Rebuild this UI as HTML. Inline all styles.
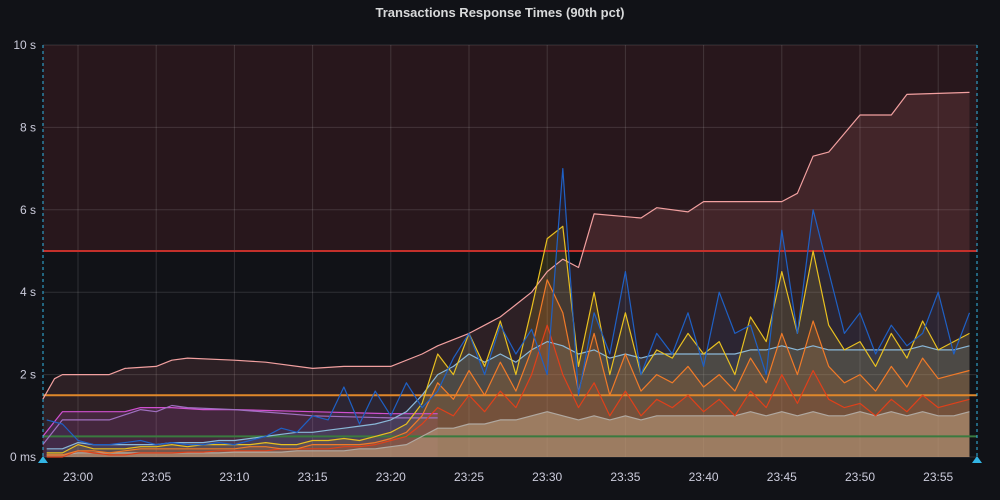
<!DOCTYPE html>
<html><head><meta charset="utf-8"><style>
body{margin:0;background:#111217;font-family:"Liberation Sans",sans-serif;}
#wrap{position:relative;width:1000px;height:500px;overflow:hidden;}
.title{position:absolute;top:5px;left:0;width:1000px;text-align:center;color:#d8d9da;font-size:13px;font-weight:bold;}
</style></head><body>
<div id="wrap">
<div class="title">Transactions Response Times (90th pct)</div>
<svg id="svg" width="1000" height="500" style="position:absolute;left:0;top:0"></svg>
</div>
<script>
const startMin=-2;
const yTicks=[0,2,4,6,8,10];
const yTickLabels=["0 ms","2 s","4 s","6 s","8 s","10 s"];
const xTicks=[0,5,10,15,20,25,30,35,40,45,50,55];
const xTickLabels=["23:00","23:05","23:10","23:15","23:20","23:25","23:30","23:35","23:40","23:45","23:50","23:55"];
const thresholds=[5,1.5,0.5];
const pinkT=[-2.25,-1.5,-1,0,2,3,5,6,7,10,12,15,17,20,22,23,25,26,27,28,29,30,31,32,33,36,37,39,40,45,46,47,48,50,52,53,57];
const pinkV=[1.4,1.9,2.0,2.0,2.0,2.15,2.2,2.35,2.4,2.35,2.3,2.15,2.2,2.2,2.5,2.7,3.0,3.2,3.4,3.7,4.0,4.5,4.8,4.6,5.9,5.8,6.05,5.95,6.2,6.2,6.4,7.3,7.4,8.3,8.3,8.8,8.85];
const magT=[-2.25,-1,3,4,6,8,10,15,20,23];
const magV=[0.5,1.1,1.1,1.2,1.2,1.15,1.15,1.1,1.05,1.05];
const purT=[-2.25,-1,2,4,5,6,7,10,15,20,23];
const purV=[0.3,0.9,0.9,1.15,1.1,1.25,1.2,1.15,1.0,0.95,0.95];
const blue=[0.9,0.8,0.4,0.3,0.3,0.35,0.4,0.3,0.35,0.3,0.3,0.35,0.3,0.4,0.5,0.7,0.6,1.0,0.9,1.7,0.8,1.6,1.0,1.8,1.2,1.6,2.4,3.0,2.0,3.2,2.5,3.1,2.0,7.0,1.5,3.5,2.5,4.5,2.0,3.0,2.5,3.5,2.2,4.0,3.0,3.2,2.0,5.5,3.0,6.0,4.5,3.0,3.5,2.5,3.2,2.7,3.0,4.0,2.5,3.5];
const yellow=[0.1,0.1,0.3,0.2,0.2,0.2,0.25,0.25,0.3,0.25,0.3,0.3,0.3,0.3,0.35,0.3,0.3,0.4,0.4,0.45,0.4,0.5,0.6,0.8,1.3,2.5,2.0,3.0,2.2,3.3,2.0,3.6,5.3,5.6,2.2,4.0,2.0,3.5,2.0,2.6,2.4,3.0,2.5,2.8,2.0,3.4,2.8,4.5,3.0,5.0,3.2,2.6,2.8,2.2,3.0,2.4,3.3,2.6,2.8,3.0];
const orange=[0.05,0.05,0.15,0.15,0.1,0.15,0.2,0.2,0.2,0.2,0.2,0.2,0.2,0.25,0.25,0.2,0.2,0.3,0.3,0.3,0.3,0.35,0.45,0.6,1.0,1.8,1.4,2.1,1.5,2.3,1.6,2.6,4.3,3.5,1.6,3.0,1.5,2.5,1.6,2.0,1.8,2.2,1.7,2.0,1.6,2.4,1.8,3.0,2.0,3.3,2.2,1.8,2.0,1.6,2.2,1.7,2.4,1.9,2.0,2.1];
const red=[0.0,0.0,0.15,0.1,0.05,0.05,0.1,0.1,0.1,0.12,0.12,0.15,0.15,0.15,0.15,0.2,0.2,0.2,0.2,0.25,0.25,0.3,0.4,0.5,0.8,1.2,1.0,1.5,1.1,1.6,1.2,2.0,3.2,2.0,1.2,1.8,1.0,1.6,1.0,1.4,1.2,1.5,1.1,1.4,1.0,1.6,1.2,2.0,1.3,2.1,1.4,1.2,1.3,1.0,1.4,1.1,1.5,1.2,1.3,1.4];
const lightBlue=[0.2,0.2,0.35,0.3,0.3,0.3,0.3,0.3,0.35,0.35,0.35,0.4,0.4,0.45,0.5,0.55,0.6,0.6,0.65,0.7,0.75,0.8,0.9,1.1,1.5,2.0,2.2,2.5,2.3,2.5,2.3,2.6,2.8,2.7,2.5,2.6,2.4,2.5,2.4,2.5,2.5,2.5,2.5,2.5,2.5,2.6,2.6,2.7,2.6,2.7,2.6,2.6,2.6,2.6,2.6,2.6,2.7,2.6,2.6,2.7];
const gray=[0.05,0.05,0.1,0.1,0.1,0.1,0.1,0.1,0.1,0.1,0.1,0.1,0.12,0.12,0.12,0.12,0.15,0.15,0.15,0.15,0.2,0.2,0.25,0.3,0.5,0.7,0.7,0.8,0.8,0.9,0.9,1.0,1.1,1.0,0.9,1.0,0.9,1.0,0.9,1.0,1.0,1.0,1.0,1.0,1.0,1.1,1.0,1.1,1.0,1.1,1.0,1.0,1.1,1.0,1.1,1.0,1.1,1.0,1.0,1.1];

const L=43,R=977,T=45,B=457;
const x=t=>78+t*15.64;
const y=v=>B-(v/10)*(B-T);
const svg=document.getElementById('svg');
const NS='http://www.w3.org/2000/svg';
function mk(tag,attrs,parent){const e=document.createElementNS(NS,tag);for(const k in attrs)e.setAttribute(k,attrs[k]);(parent||svg).appendChild(e);return e;}

let reg=mk('rect',{x:L,y:T,width:R-L,height:y(5)-T,fill:'rgba(200,60,60,0.13)'});


yTicks.forEach((v,i)=>{
  let g=mk('line',{x1:L,x2:R,y1:y(v),y2:y(v),stroke:'rgba(255,255,255,0.13)'});
  
  
  let t=mk('text',{x:36,y:y(v)+4,'text-anchor':'end',fill:'#ccccdc','font-size':12});
  t.textContent=yTickLabels[i];
  
  
});
xTicks.forEach((v,i)=>{
  let g=mk('line',{x1:x(v),x2:x(v),y1:T,y2:B,stroke:'rgba(255,255,255,0.13)'});
  
  
  let t=mk('text',{x:x(v),y:481,'text-anchor':'middle',fill:'#ccccdc','font-size':12});
  t.textContent=xTickLabels[i];
  
  
});
function pts(ts,vs){return ts.map((t,i)=>x(t).toFixed(1)+','+y(vs[i]).toFixed(1));}
const mins=blue.map((_,i)=>startMin+i);
function area(ts,vs,fill,name){
  const p=pts(ts,vs);
  let e=mk('polygon',{points:x(ts[0])+','+B+' '+p.join(' ')+' '+x(ts[ts.length-1])+','+B,fill:fill});
  
  
}
function line(ts,vs,stroke,name,w){
  let e=mk('polyline',{points:pts(ts,vs).join(' '),fill:'none',stroke:stroke,'stroke-width':w||1.2,'stroke-linejoin':'round'});
  
  
}
area(pinkT,pinkV,'rgba(255,140,140,0.12)','pink-series-area');
area(magT,magV,'rgba(200,80,200,0.15)','magenta-series-area');
area(mins,lightBlue,'rgba(120,170,200,0.15)','lightblue-series-area');
area(mins,yellow,'rgba(230,190,40,0.14)','yellow-series-area');
area(mins,blue,'rgba(40,100,200,0.08)','blue-series-area');
area(mins,orange,'rgba(240,130,40,0.16)','orange-series-area');
area(mins,red,'rgba(220,70,30,0.12)','red-series-area');
area(mins,gray,'rgba(190,160,130,0.55)','base-series-area');
const thColors=['#c4302b','#e0872a','#3a7a3f'];
thresholds.forEach((v,i)=>{
  let e=mk('line',{x1:L,x2:R,y1:y(v),y2:y(v),stroke:thColors[i],'stroke-width':2});
  
  
});
line(pinkT,pinkV,'#f2a0a0','pink-series-line');
line(magT,magV,'#d050d0','magenta-series-line');
line(purT,purV,'#a070c0','purple-series-line');
line(mins,gray,'#b0a8a0','gray-series-line');
line(mins,lightBlue,'#8ab8d8','lightblue-series-line');
line(mins,red,'#e0401a','red-series-line');
line(mins,orange,'#f07a28','orange-series-line');
line(mins,yellow,'#e8c020','yellow-series-line');
line(mins,blue,'#1f60c4','blue-series-line');
[L,R].forEach(xx=>{
  let e=mk('line',{x1:xx,x2:xx,y1:T,y2:B,stroke:'#33b5e5','stroke-dasharray':'3,3','stroke-width':1});
  
  
  let tri=mk('polygon',{points:(xx-5)+','+(B+6)+' '+(xx+5)+','+(B+6)+' '+xx+','+(B-1),fill:'#33b5e5'});
  
  
});
</script>
</body></html>
